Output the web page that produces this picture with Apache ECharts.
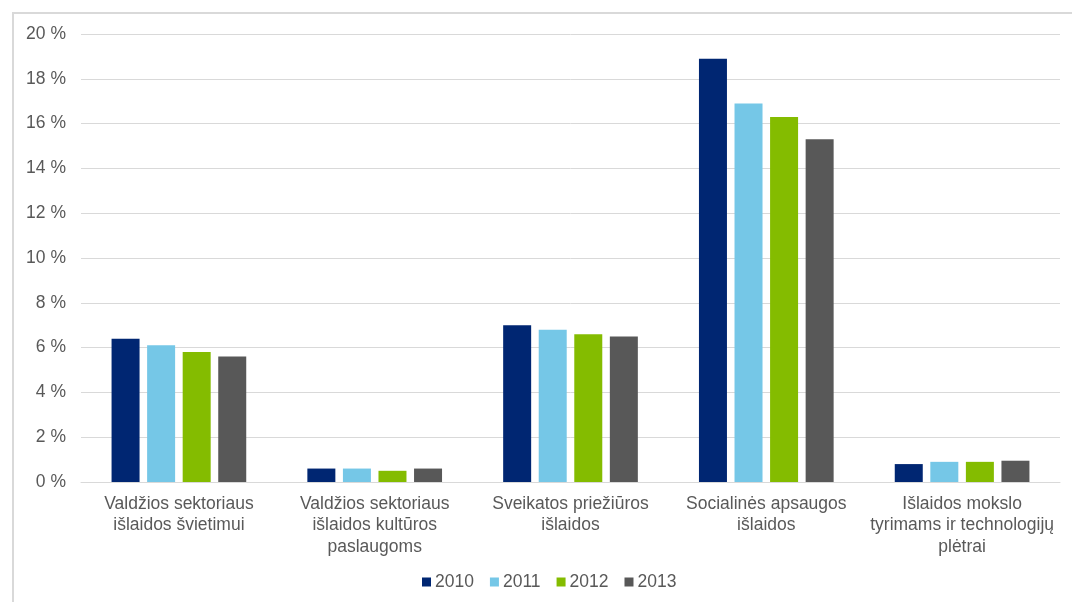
<!DOCTYPE html>
<html>
<head>
<meta charset="utf-8">
<style>
  html, body { margin: 0; padding: 0; background: #ffffff; }
  #chart { width: 1072px; height: 602px; }
</style>
<script src="https://cdn.jsdelivr.net/npm/echarts@6/dist/echarts.min.js"></script>
</head>
<body>
<div id="chart"></div>
<script>
// Expenditure categories (x axis)
const categories = [
  'Valdžios sektoriaus\nišlaidos švietimui',
  'Valdžios sektoriaus\nišlaidos kultūros\npaslaugoms',
  'Sveikatos priežiūros\nišlaidos',
  'Socialinės apsaugos\nišlaidos',
  'Išlaidos mokslo\ntyrimams ir technologijų\nplėtrai'
];

// Share of GDP, % by year
const years = ['2010', '2011', '2012', '2013'];
const values2010 = [6.4, 0.6, 7.0, 18.9, 0.8];
const values2011 = [6.1, 0.6, 6.8, 16.9, 0.9];
const values2012 = [5.8, 0.5, 6.6, 16.3, 0.9];
const values2013 = [5.6, 0.6, 6.5, 15.3, 0.95];
const seriesValues = [values2010, values2011, values2012, values2013];
const colors = ['#002672', '#75C7E7', '#84BC00', '#585858'];

const font = '"Liberation Sans", Arial, sans-serif';
const chart = echarts.init(document.getElementById('chart'), null, { renderer: 'canvas' });

chart.setOption({
  animation: false,
  backgroundColor: '#ffffff',
  textStyle: { fontFamily: font },
  graphic: [{
    type: 'rect',
    z: -10,
    silent: true,
    shape: { x: 13, y: 13, width: 1100, height: 700 },
    style: { fill: 'none', stroke: '#d9d9d9', lineWidth: 2 }
  }],
  grid: { left: 81, right: 12, top: 34, bottom: 120, containLabel: false },
  legend: {
    data: years,
    bottom: 6,
    left: 417,
    icon: 'rect',
    itemWidth: 9,
    itemHeight: 9,
    itemGap: 16,
    textStyle: { fontSize: 17.5, color: '#595959', fontFamily: font, padding: [0, 0, 0, -1] }
  },
  xAxis: {
    type: 'category',
    data: categories,
    axisLine: { lineStyle: { color: '#d9d9d9', width: 1 } },
    axisTick: { show: false },
    axisLabel: {
      interval: 0,
      margin: 11,
      fontSize: 17.5,
      lineHeight: 21.5,
      color: '#595959',
      fontFamily: font,
      align: 'center'
    }
  },
  yAxis: {
    type: 'value',
    min: 0,
    max: 20,
    interval: 2,
    axisLine: { show: false },
    axisTick: { show: false },
    splitLine: { lineStyle: { color: '#d9d9d9', width: 1 } },
    axisLabel: {
      margin: 15,
      fontSize: 17.5,
      color: '#595959',
      fontFamily: font,
      formatter: v => v + ' %'
    }
  },
  series: years.map((y, i) => ({
    name: y,
    type: 'bar',
    data: seriesValues[i],
    barWidth: 28,
    barGap: '27%',
    itemStyle: { color: colors[i] }
  }))
});
</script>
</body>
</html>
